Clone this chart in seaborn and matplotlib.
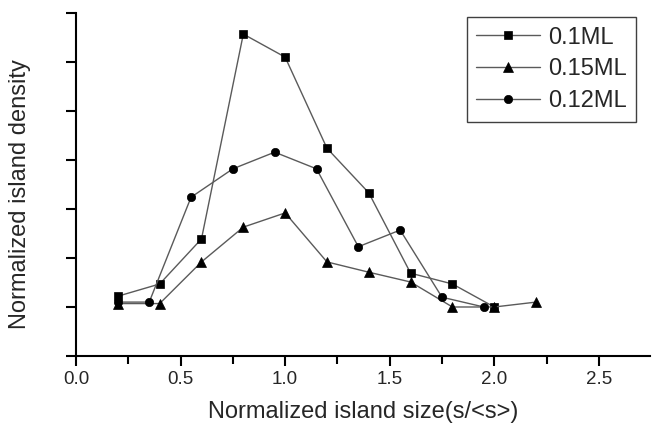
import numpy as np
import pandas as pd
import seaborn as sns
import matplotlib.pyplot as plt

# values
x_01 = [0.2, 0.4, 0.6, 0.8, 1.0, 1.2, 1.4, 1.6, 1.8, 2.0]
y_01 = [1.22, 1.47, 2.39, 6.57, 6.10, 4.24, 3.33, 1.69, 1.47, 1.0]

x_015 = [0.2, 0.4, 0.6, 0.8, 1.0, 1.2, 1.4, 1.6, 1.8, 2.0, 2.2]
y_015 = [1.07, 1.07, 1.92, 2.63, 2.92, 1.92, 1.71, 1.51, 1.0, 1.0, 1.1]

x_012 = [0.2, 0.35, 0.55, 0.75, 0.95, 1.15, 1.35, 1.55, 1.75, 1.95]
y_012 = [1.1, 1.1, 3.24, 3.82, 4.16, 3.82, 2.23, 2.57, 1.20, 1.0]

series = [
    ('0.1ML', x_01, y_01, 's', 6),
    ('0.15ML', x_015, y_015, '^', 7),
    ('0.12ML', x_012, y_012, 'o', 6),
]

sns.set_style('ticks')
plt.rcParams['font.family'] = ['Liberation Sans', 'DejaVu Sans']

fig = plt.figure(figsize=(6.52, 4.24), dpi=100)
ax = fig.add_axes([0.1166, 0.1604, 0.8804, 0.8089])

for label, xs, ys, mk, ms in series:
    df = pd.DataFrame({'x': xs, 'y': ys})
    sns.lineplot(data=df, x='x', y='y', ax=ax, color='#5a5a5a', lw=1.0,
                 marker=mk, markersize=ms, markerfacecolor='black',
                 markeredgecolor='black', markeredgewidth=0.5, label=label,
                 sort=False)

ax.set_xlim(0, 2.745)
ax.set_ylim(0, 7)
ax.set_xticks(np.arange(0, 2.6, 0.5))
ax.set_xticks(np.arange(0.25, 2.75, 0.5), minor=True)
ax.set_yticks(range(0, 8))
ax.set_yticklabels([])
ax.tick_params(axis='both', which='both', direction='out', width=1.5, color='black')
ax.tick_params(axis='both', which='major', length=7, labelsize=13.5)
ax.tick_params(axis='x', which='minor', length=6)
for s in ['left', 'bottom']:
    ax.spines[s].set_linewidth(1.5)
    ax.spines[s].set_color('black')
sns.despine(ax=ax)

ax.set_xlabel('Normalized island size(s/<s>)', fontsize=17, labelpad=10)
ax.set_ylabel('Normalized island density', fontsize=17)
ax.yaxis.set_label_coords(-0.079, 0.472)

leg = ax.legend(loc='upper right', bbox_to_anchor=(0.976, 0.988), borderaxespad=0,
                fontsize=17, handlelength=2.7, handletextpad=0.35,
                labelspacing=0.42, fancybox=False, framealpha=1)
leg.get_frame().set_edgecolor('#404040')
leg.get_frame().set_linewidth(1.0)

fig.savefig('out.png', dpi=100)
